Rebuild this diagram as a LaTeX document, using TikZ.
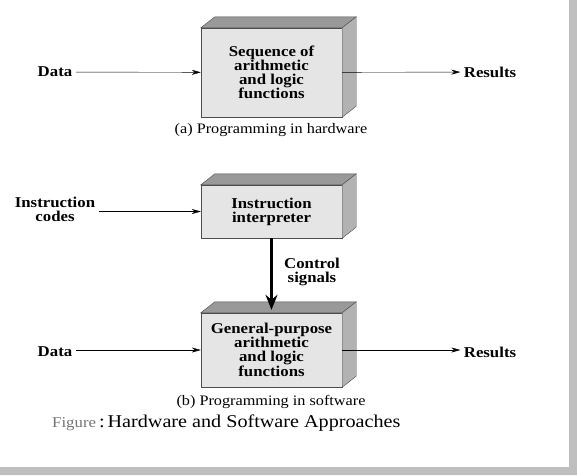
\documentclass[tikz,border=0pt]{standalone}
\usepackage{fontspec}
\setmainfont{Liberation Serif}[FakeStretch=1.12]
\usetikzlibrary{calc,arrows.meta}

% side and top faces of a box drawn behind the front node
\newcommand{\boxfaces}[1]{%
  \filldraw[draw=black!70,fill=black!40] (#1.north west) -- ++(14,-11)
    -- ($(#1.north east)+(14,-11)$) -- (#1.north east) -- cycle;
  \filldraw[draw=black!70,fill=black!30] (#1.north east) -- ++(14,-11)
    -- ($(#1.south east)+(14,-11)$) -- (#1.south east) -- cycle;
}

\begin{document}
\begin{tikzpicture}[x=1pt,y=-1pt,>={Stealth[length=9pt,width=5pt]},
  front/.style={draw=black!70,fill=black!10,minimum width=141pt,inner sep=0pt,
    align=center,font=\bfseries\fontsize{15}{13.8}\selectfont},
  lbl/.style={align=center,font=\bfseries\fontsize{15}{13.8}\selectfont},
  subcap/.style={font=\fontsize{14.5}{16}\selectfont}]
                \useasboundingbox (0,0) rectangle (577,475);
                \fill[black!25] (569,0) rectangle (577,475) (0,467) rectangle (577,475);

                % (a) hardware
                \node[front,minimum height=89pt] (hw) at (271.5,72.5) {Sequence of\\arithmetic\\and logic\\functions};
                \boxfaces{hw}
                \node[lbl] (data1) at (55,72) {Data};
                \node[lbl] (res1) at (490,72) {Results};
                \draw[->] (data1) -- (hw);
                \draw[->] (hw) -- (res1);
                \node[subcap] (capa) at (271,130) {(a) Programming in hardware};

                % (b) software
                \node[front,minimum height=53pt] (interp) at (271.5,211.5) {Instruction\\interpreter};
                \boxfaces{interp}
                \node[front,minimum height=74pt] (gp) at (271.5,350) {General-purpose\\arithmetic\\and logic\\functions};
                \boxfaces{gp}
                \node[lbl] (codes) at (55,209) {Instruction\\codes};
                \draw[->] (codes.east |- interp.west) -- (interp.west);
                \draw[->,line width=3pt,>={Stealth[length=15pt,width=12pt]}] (interp.south) -- ([yshift=3pt]gp.north);
                \node[lbl] (ctrl) at (312,272) {Control\\signals};
                \node[lbl] (data2) at (55,352) {Data};
                \node[lbl] (res2) at (490,352) {Results};
                \draw[->] (data2.east |- gp.west) -- (gp.west);
                \draw[->] (gp.east) -- (res2.west |- gp.east);
                \node[subcap] (capb) at (271,402) {(b) Programming in software};

                \node[anchor=west,inner sep=0pt,font=\fontsize{18}{19}\selectfont] (fig) at (52,423) {{\color{black!55}\fontsize{15}{17}\selectfont Figure}\,:\,Hardware and Software Approaches};
\end{tikzpicture}
\end{document}
